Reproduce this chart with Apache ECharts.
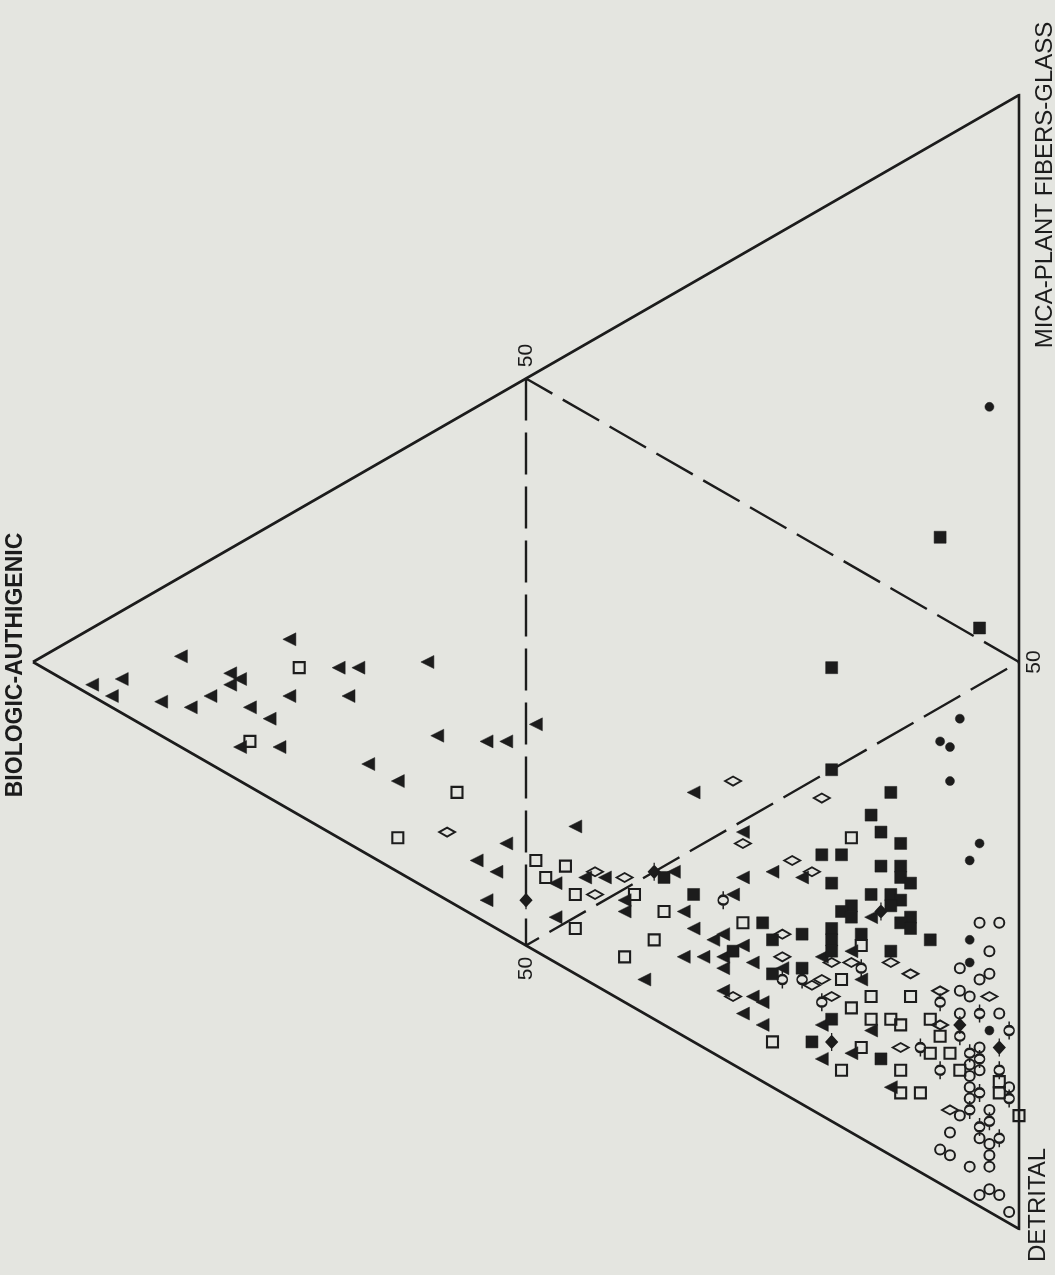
<!DOCTYPE html>
<html>
<head>
<meta charset="utf-8">
<title>Sediment composition ternary diagram</title>
<script src="https://cdn.jsdelivr.net/npm/echarts@6/dist/echarts.min.js"></script>
<style>
  html, body { margin: 0; padding: 0; background: #e4e5e0; }
  #chart { width: 1055px; height: 1275px; }
</style>
</head>
<body>
<div id="chart"></div>
<script>
// Components of the ternary diagram (percent). Each sample is [detrital, mica-plant fibers-glass];
// the biologic-authigenic share is the remainder to 100.
const vertexNames = ['BIOLOGIC-AUTHIGENIC', 'MICA-PLANT FIBERS-GLASS', 'DETRITAL'];
const midTick = '50';

const solidTriangles = [
  [5,1],[7,1],[6,3],[10,3],[7,8],[12,4],[12,6],[11,9],[12,8],[12,9],[15,7],[17,7],[11,15],[16,10],
  [20,5],[18,3],[16,15],[17,16],[19,13],[20,20],[26,8],[29,8],[27,14],[30,16],[31,17],[31,20],
  [42,13],[40,8],[40,5],[42,5],[44,2],[45,22],[51,21],[51,14],[46,7],[47,9],[48,10],[51,9],[52,8],
  [49,4],[55,17],[56,19],[56,15],[55,11],[57,10],[59,10],[59,11],[61,11],[59,7],[60,8],[61,9],[62,8],
  [63,10],[59,3],[64,6],[66,7],[67,7],[67,5],[69,5],[58,20],[65,20],[66,14],[67,16],[65,11],[70,14],
  [72,8],[75,10],[75,5],[76,7],[81,6]
];
const openSquares = [
  [14,13],[18,4],[33,10],[34,3],[43,8],[45,7],[45,9],[48,7],[51,4],[51,10],[54,10],[56,7],[56,4],
  [59,13],[71,4],[57,26],[67,17],[69,13],[72,13],[72,11],[74,15],[74,11],[75,12],[76,12],[77,14],
  [79,13],[76,8],[80,11],[81,12],[80,8],[77,5],[83,11],[82,6],[83,7],[86,12],[87,11],[90,10]
];
const openDiamonds = [
  [36,6],[46,25],[52,20],[52,28],[47,10],[49,11],[49,8],[65,6],[64,12],[56,21],[58,21],[62,14],
  [67,14],[68,15],[70,17],[68,12],[68,11],[70,11],[72,17],[75,17],[78,19],[78,14],[78,10],[86,7]
];
const solidSquares = [
  [35,57],[45,51],[41,40],[50,31],[55,32],[56,29],[58,28],[60,28],[57,23],[58,24],[61,25],[62,26],
  [60,21],[63,25],[64,25],[63,22],[64,23],[65,23],[63,20],[63,19],[64,19],[65,22],[67,22],[67,21],
  [68,21],[70,21],[66,18],[60,14],[62,13],[63,15],[64,17],[65,16],[66,15],[69,18],[66,12],[65,10],
  [72,9],[73,6],[78,8],[51,13],[54,13],[61,10]
];
const solidDots = [
  [26,71],[52,42],[53,39],[54,39],[57,36],[64,32],[65,30],[72,23],[74,21],[81,16]
];
const openCircles = [
  [71,25],[72,26],[74,23],[74,20],[76,20],[76,21],[76,18],[77,18],[78,16],[80,18],[82,14],[83,12],
  [84,12],[84,11],[85,10],[86,9],[87,7],[88,9],[88,5],[89,3],[90,3],[92,3],[90,6],[91,6],[92,5],
  [93,4],[95,2],[95,1],[96,2],[98,1],[87,12]
];
const barredCircles = [
  [56,14],[69,15],[66,10],[67,11],[70,10],[76,16],[79,17],[82,17],[80,14],[79,11],[82,13],[83,13],
  [82,10],[85,13],[87,8],[89,7],[89,8],[86,10],[88,11],[91,7]
];
const barredDiamonds = [
  [50,13],[46,4],[65,21],[74,7],[79,15],[83,15]
];

// Ternary -> plane: x = 100 - biologic, y = detrital - mica (drawn downward)
function toXY(p) { return [p[0] + p[1], p[0] - p[1]]; }
const corner = { bio: [0, 0], mica: [0, 100], det: [100, 0] };
const mid = { bioMica: [0, 50], bioDet: [50, 0], micaDet: [50, 50] };

const INK = '#1c1c1c';
const BG = '#e4e5e0';

const chart = echarts.init(document.getElementById('chart'), null, { renderer: 'canvas' });

function markerSeries(name, data, symbol, size, filled, stroke) {
  return {
    name: name,
    type: 'scatter',
    data: data.map(toXY),
    symbol: symbol,
    symbolSize: size,
    clip: false,
    z: 5,
    itemStyle: {
      opacity: 1,
      color: filled ? INK : 'rgba(0,0,0,0)',
      borderColor: INK,
      borderWidth: stroke
    },
    emphasis: { disabled: true }
  };
}

const option = {
  backgroundColor: BG,
  animation: false,
  grid: { left: 33, right: 36, top: 95, bottom: 46, containLabel: false },
  xAxis: { type: 'value', min: 0, max: 100, show: false },
  yAxis: { type: 'value', min: -100, max: 100, inverse: true, show: false },
  series: [
    {
      name: 'outline', type: 'line', symbol: 'none', z: 2,
      data: [corner.bio, corner.mica, corner.det, corner.bio].map(toXY),
      lineStyle: { color: INK, width: 2.6, join: 'miter' }
    },
    {
      name: 'halves', type: 'line', symbol: 'none', z: 2,
      data: [mid.bioMica, mid.bioDet, mid.micaDet, mid.bioMica].map(toXY),
      lineStyle: { color: INK, width: 2.4, type: [42, 12] }
    },
    markerSeries('solid triangles', solidTriangles, 'path://M0,6.5 L12,0 L12,13 Z', [13, 13], true, 0.5),
    markerSeries('open squares', openSquares, 'rect', 11, false, 2.1),
    markerSeries('open diamonds', openDiamonds, 'path://M0,4.5 L8,0 L16,4.5 L8,9 Z', [16, 9], false, 2),
    markerSeries('solid squares', solidSquares, 'rect', 12, true, 0.5),
    markerSeries('solid dots', solidDots, 'circle', 9, true, 0.5),
    markerSeries('open circles', openCircles, 'circle', 10, false, 2),
    markerSeries('barred circles', barredCircles,
      'path://M5,0 L5,4.5 A4.5,4.5 0 1 1 4.99,4.5 Z M5,13.5 L5,18', [10, 18], false, 2),
    markerSeries('barred diamonds', barredDiamonds,
      'path://M5,0 L5,3 L10,9 L5,15 L5,18 L5,15 L0,9 L5,3 Z', [11, 18], true, 1.6)
  ]
};
chart.setOption(option);

// Rotated captions placed beside the corners and the 50% ticks
function px(p) { return chart.convertToPixel({ gridIndex: 0 }, toXY(p)); }
function caption(p, dx, dy, text, font) {
  const q = px(p);
  return {
    type: 'text', x: q[0] + dx, y: q[1] + dy, rotation: Math.PI / 2, z: 10,
    style: { text: text, font: font, fill: INK, textAlign: 'center', textVerticalAlign: 'middle' }
  };
}
const capFont = '24px "Liberation Sans", Arial, sans-serif';
const boldFont = 'bold 23px "Liberation Sans", Arial, sans-serif';
const tickFont = '21px "Liberation Sans", Arial, sans-serif';
chart.setOption({
  graphic: [
    caption(corner.bio, -17, 3, vertexNames[0], boldFont),
    caption(corner.mica, 26, 90, vertexNames[1], capFont),
    caption(corner.det, 19, -24, vertexNames[2], capFont),
    caption(mid.bioMica, 0, -23, midTick, tickFont),
    caption(mid.bioDet, 0, 23, midTick, tickFont),
    caption(mid.micaDet, 15, 0, midTick, tickFont)
  ]
});
</script>
</body>
</html>
